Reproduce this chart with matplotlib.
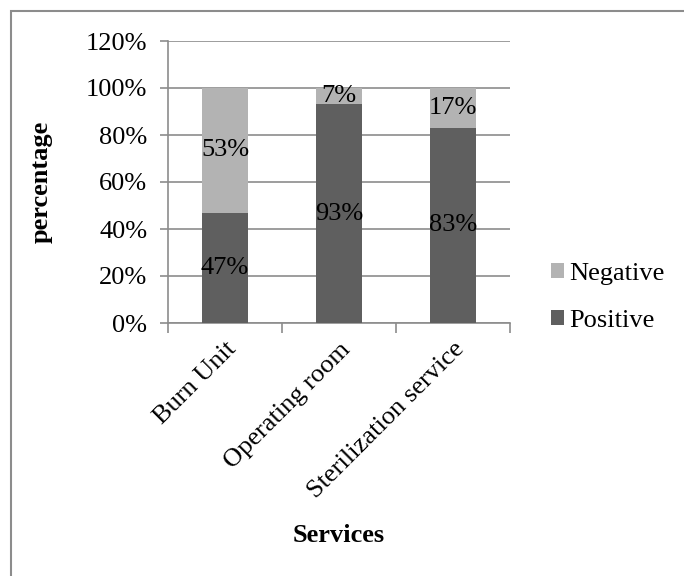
import matplotlib.pyplot as plt
from matplotlib.patches import Rectangle

plt.rcParams['font.family'] = ['Liberation Serif', 'DejaVu Serif']

services = ['Burn Unit', 'Operating room', 'Sterilization service']
positive = [47, 93, 83]
negative = [53, 7, 17]
y_ticks = [0, 20, 40, 60, 80, 100, 120]

dark = '#5f5f5f'
light = '#b3b3b3'
grid_c = '#8c8c8c'
fs = 19

fig = plt.figure(figsize=(6.84, 5.76), dpi=100)
# outer chart border (right/bottom edges fall outside the picture)
fig.patches.append(Rectangle((11 / 684, -0.01), 1.0, 1 - 11 / 576 + 0.01,
                             transform=fig.transFigure, fill=False,
                             edgecolor='#8c8c8c', linewidth=1.5))

ax = fig.add_axes([168 / 684, 1 - 323 / 576, 342 / 684, 282 / 576])

x = range(len(services))
b1 = ax.bar(x, positive, width=0.4, color=dark, label='Positive', zorder=3)
b2 = ax.bar(x, negative, width=0.4, bottom=positive, color=light,
            label='Negative', zorder=3)

for i in x:
    ax.text(i, positive[i] / 2, f'{positive[i]}%', ha='center', va='center',
            fontsize=fs, zorder=4)
    ax.text(i, positive[i] + negative[i] / 2, f'{negative[i]}%', ha='center',
            va='center', fontsize=fs, zorder=4)

ax.set_ylim(0, 120)
ax.set_xlim(-0.5, 2.5)
ax.set_yticks(y_ticks)
ax.set_yticklabels([f'{v}%' for v in y_ticks], fontsize=fs)
ax.yaxis.grid(True, color=grid_c, linewidth=1.2, zorder=0)

ax.set_xticks([-0.5, 0.5, 1.5, 2.5])
ax.set_xticklabels([])
ax.set_xticks(list(x), minor=True)
ax.set_xticklabels(services, minor=True, rotation=45, ha='right',
                   rotation_mode='anchor', fontsize=fs)
ax.tick_params(axis='x', which='minor', length=0, pad=11)
ax.tick_params(axis='x', which='major', length=7, color=grid_c, width=1.2)
ax.tick_params(axis='y', length=6, color=grid_c, width=1.2, pad=9)

for s in ['top', 'right']:
    ax.spines[s].set_visible(False)
for s in ['left', 'bottom']:
    ax.spines[s].set_color(grid_c)
    ax.spines[s].set_linewidth(1.2)

ax.set_ylabel('percentage', fontsize=fs, fontweight='bold', labelpad=24)
fig.text(339 / 684, 1 - 536 / 576, 'Services', ha='center', va='center',
         fontsize=fs, fontweight='bold')

ax.legend(handles=[b2, b1], loc='center left', bbox_to_anchor=(1.08, 0.09),
          frameon=False, fontsize=fs, handlelength=0.5, handleheight=0.5,
          handletextpad=0.2, labelspacing=0.95, borderpad=0)

fig.savefig('out.png', dpi=100)
